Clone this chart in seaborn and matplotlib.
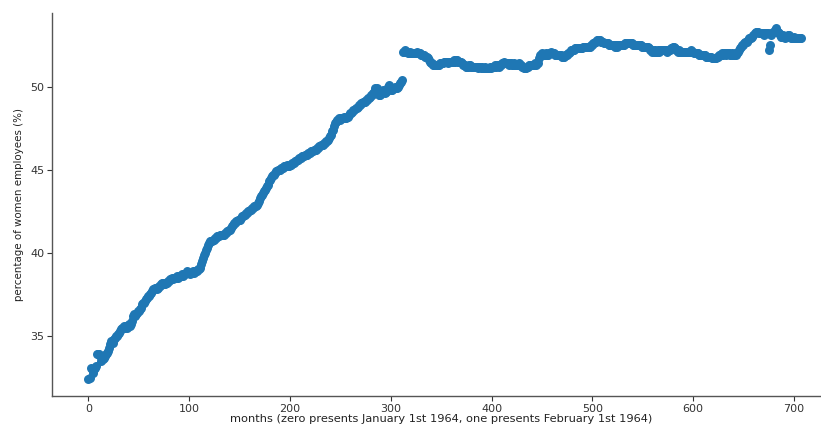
import numpy as np
import pandas as pd
import matplotlib
matplotlib.use("Agg")
import matplotlib.pyplot as plt
import seaborn as sns

# Share of women among employees, one row of twelve monthly values per year (1964-2022)
share_1964_1975 = [
    32.4, 32.5, 33.1, 33.0, 32.8, 33.0, 33.1, 33.2, 33.9, 33.9, 33.9, 33.8,
    33.5, 33.6, 33.6, 33.7, 33.8, 33.9, 34.0, 34.1, 34.3, 34.5, 34.7, 34.7,
    34.6, 34.8, 34.9, 35.0, 35.0, 35.1, 35.2, 35.3, 35.4, 35.5, 35.5, 35.6,
    35.5, 35.6, 35.5, 35.6, 35.7, 35.6, 35.7, 35.9, 36.2, 36.3, 36.2, 36.3,
    36.4, 36.5, 36.5, 36.6, 36.7, 36.9, 37.0, 37.0, 37.1, 37.2, 37.3, 37.4,
    37.4, 37.5, 37.6, 37.7, 37.8, 37.8, 37.9, 37.9, 37.8, 37.9, 38.0, 38.0,
    38.1, 38.2, 38.2, 38.1, 38.1, 38.2, 38.2, 38.3, 38.3, 38.4, 38.4, 38.5,
    38.4, 38.5, 38.5, 38.5, 38.6, 38.5, 38.6, 38.6, 38.6, 38.7, 38.6, 38.7,
    38.7, 38.8, 38.9, 38.8, 38.8, 38.7, 38.8, 38.8, 38.9, 38.8, 38.9, 38.9,
    38.9, 39.0, 39.0, 39.1, 39.3, 39.5, 39.7, 39.9, 40.0, 40.2, 40.3, 40.5,
    40.6, 40.7, 40.7, 40.7, 40.8, 40.8, 40.9, 40.9, 41.0, 41.0, 41.0, 41.1,
    41.1, 41.1, 41.1, 41.2, 41.2, 41.3, 41.3, 41.4, 41.4, 41.5, 41.6, 41.7,
]
share_1976_1989 = [
    41.8, 41.8, 41.9, 41.9, 42.0, 42.0, 42.0, 42.1, 42.2, 42.2, 42.3, 42.3,
    42.4, 42.4, 42.5, 42.5, 42.6, 42.6, 42.7, 42.7, 42.8, 42.8, 42.8, 42.9,
    43.0, 43.1, 43.3, 43.4, 43.5, 43.6, 43.7, 43.8, 43.9, 44.0, 44.1, 44.3,
    44.4, 44.5, 44.6, 44.7, 44.7, 44.8, 44.9, 44.9, 45.0, 45.0, 45.0, 45.1,
    45.1, 45.1, 45.2, 45.2, 45.2, 45.3, 45.2, 45.2, 45.3, 45.3, 45.4, 45.4,
    45.4, 45.5, 45.5, 45.6, 45.6, 45.7, 45.7, 45.7, 45.8, 45.8, 45.8, 45.9,
    45.9, 45.9, 46.0, 46.0, 46.0, 46.1, 46.1, 46.1, 46.2, 46.2, 46.2, 46.3,
    46.3, 46.4, 46.4, 46.5, 46.5, 46.5, 46.6, 46.6, 46.7, 46.7, 46.8, 46.9,
    47.0, 47.1, 47.3, 47.4, 47.6, 47.8, 47.9, 48.0, 48.0, 48.1, 48.0, 48.1,
    48.1, 48.1, 48.2, 48.1, 48.1, 48.2, 48.2, 48.3, 48.4, 48.4, 48.5, 48.6,
    48.6, 48.7, 48.7, 48.8, 48.9, 48.9, 49.0, 49.0, 49.1, 49.1, 49.1, 49.2,
    49.2, 49.3, 49.3, 49.4, 49.5, 49.5, 49.6, 49.7, 49.9, 49.8, 49.9, 49.6,
    49.5, 49.5, 49.6, 49.7, 49.8, 49.7, 49.6, 49.7, 49.8, 50.0, 50.1, 49.9,
    49.8, 49.8, 49.9, 49.9, 50.0, 49.9, 49.9, 50.0, 50.1, 50.2, 50.3, 50.4,
]
share_1990_2005 = [
    52.1, 52.1, 52.2, 52.1, 52.1, 52.0, 52.0, 52.1, 52.0, 52.0, 52.0, 52.0,
    52.0, 52.0, 52.1, 52.0, 52.0, 52.0, 51.9, 51.9, 51.9, 51.9, 51.8, 51.8,
    51.8, 51.7, 51.6, 51.5, 51.4, 51.4, 51.3, 51.3, 51.3, 51.3, 51.3, 51.3,
    51.3, 51.4, 51.4, 51.4, 51.4, 51.5, 51.5, 51.5, 51.5, 51.4, 51.5, 51.5,
    51.5, 51.5, 51.5, 51.6, 51.5, 51.6, 51.6, 51.5, 51.5, 51.5, 51.5, 51.4,
    51.3, 51.3, 51.3, 51.2, 51.2, 51.2, 51.3, 51.3, 51.2, 51.2, 51.2, 51.2,
    51.2, 51.2, 51.2, 51.1, 51.2, 51.2, 51.1, 51.2, 51.1, 51.1, 51.2, 51.1,
    51.1, 51.1, 51.2, 51.1, 51.2, 51.2, 51.2, 51.3, 51.2, 51.3, 51.3, 51.2,
    51.3, 51.3, 51.4, 51.4, 51.5, 51.4, 51.4, 51.4, 51.4, 51.3, 51.4, 51.4,
    51.3, 51.3, 51.4, 51.3, 51.3, 51.3, 51.3, 51.4, 51.3, 51.3, 51.2, 51.2,
    51.1, 51.1, 51.1, 51.2, 51.2, 51.3, 51.3, 51.3, 51.3, 51.3, 51.3, 51.4,
    51.3, 51.4, 51.4, 51.7, 51.9, 51.9, 52.0, 51.9, 51.9, 51.9, 52.0, 51.9,
    51.9, 52.0, 52.0, 52.1, 52.0, 52.0, 52.0, 51.9, 51.9, 51.9, 51.9, 51.9,
    51.9, 51.9, 51.8, 51.8, 51.8, 51.9, 51.9, 51.9, 52.0, 52.0, 52.1, 52.2,
    52.2, 52.2, 52.2, 52.3, 52.3, 52.3, 52.3, 52.3, 52.3, 52.3, 52.3, 52.4,
    52.4, 52.4, 52.4, 52.4, 52.4, 52.4, 52.4, 52.5, 52.5, 52.6, 52.6, 52.7,
]
share_2006_2022 = [
    52.7, 52.8, 52.8, 52.8, 52.8, 52.7, 52.7, 52.7, 52.6, 52.6, 52.6, 52.6,
    52.6, 52.5, 52.5, 52.5, 52.5, 52.5, 52.5, 52.4, 52.5, 52.4, 52.5, 52.5,
    52.5, 52.5, 52.5, 52.5, 52.6, 52.6, 52.6, 52.6, 52.6, 52.6, 52.6, 52.6,
    52.5, 52.5, 52.5, 52.5, 52.5, 52.5, 52.5, 52.5, 52.5, 52.4, 52.4, 52.4,
    52.4, 52.4, 52.4, 52.4, 52.3, 52.2, 52.2, 52.1, 52.2, 52.1, 52.2, 52.1,
    52.1, 52.2, 52.1, 52.2, 52.2, 52.2, 52.2, 52.2, 52.2, 52.2, 52.1, 52.2,
    52.2, 52.2, 52.3, 52.3, 52.4, 52.4, 52.3, 52.2, 52.2, 52.1, 52.2, 52.1,
    52.1, 52.1, 52.1, 52.1, 52.1, 52.1, 52.1, 52.1, 52.1, 52.1, 52.2, 52.1,
    52.1, 52.0, 52.0, 52.0, 52.0, 52.0, 51.9, 51.9, 51.9, 51.9, 51.9, 51.9,
    51.9, 51.8, 51.8, 51.8, 51.8, 51.8, 51.8, 51.7, 51.7, 51.7, 51.7, 51.7,
    51.8, 51.8, 51.9, 51.9, 51.9, 52.0, 51.9, 52.0, 52.0, 51.9, 52.0, 52.0,
    52.0, 51.9, 51.9, 52.0, 51.9, 51.9, 52.0, 51.9, 52.0, 52.1, 52.2, 52.3,
    52.4, 52.5, 52.5, 52.6, 52.7, 52.7, 52.7, 52.8, 52.9, 52.9, 52.9, 53.0,
    53.1, 53.2, 53.3, 53.3, 53.3, 53.2, 53.2, 53.2, 53.2, 53.2, 53.1, 53.2,
    53.2, 53.2, 53.2, 52.2, 52.5, 53.1, 53.2, 53.3, 53.3, 53.4, 53.5, 53.3,
    53.3, 53.2, 53.1, 53.0, 53.0, 53.1, 53.0, 52.9, 53.0, 53.0, 53.1, 53.1,
    53.0, 52.9, 52.9, 52.9, 53.0, 52.9, 52.9, 52.9, 52.9, 52.9, 52.9, 52.9,
]

share = share_1964_1975 + share_1976_1989 + share_1990_2005 + share_2006_2022
df = pd.DataFrame({"month": np.arange(len(share)), "share": share})

sns.set_style("ticks")
plt.rcParams["font.family"] = ["DejaVu Sans"]

fig = plt.figure(figsize=(8.21, 4.26), dpi=100)
ax = fig.add_axes([0.063, 0.0704, 0.937, 0.900])

sns.scatterplot(data=df, x="month", y="share", ax=ax, s=42,
                color="#1f77b4", linewidth=0, legend=False)

ax.set_xlim(-36.5, 727)
ax.set_ylim(31.39, 54.45)
ax.set_xticks([0, 100, 200, 300, 400, 500, 600, 700])
ax.set_yticks([35, 40, 45, 50])
ax.tick_params(labelsize=8, length=3.5, width=0.8, pad=2, colors="#333333")
for side in ("left", "bottom"):
    ax.spines[side].set_color("#555555")
    ax.spines[side].set_linewidth(1.0)
sns.despine(ax=ax)

ax.set_xlabel("months (zero presents January 1st 1964, one presents February 1st 1964)",
              fontsize=8.2, color="#222222")
ax.xaxis.set_label_coords(0.506, -0.061)
ax.xaxis.label.set_verticalalignment("center")
ax.set_ylabel("percentage of women employees (%)", fontsize=7.4, color="#222222")
ax.yaxis.set_label_coords(-0.043, 0.5)
ax.yaxis.label.set_verticalalignment("center")

fig.savefig("out.png", dpi=100)
